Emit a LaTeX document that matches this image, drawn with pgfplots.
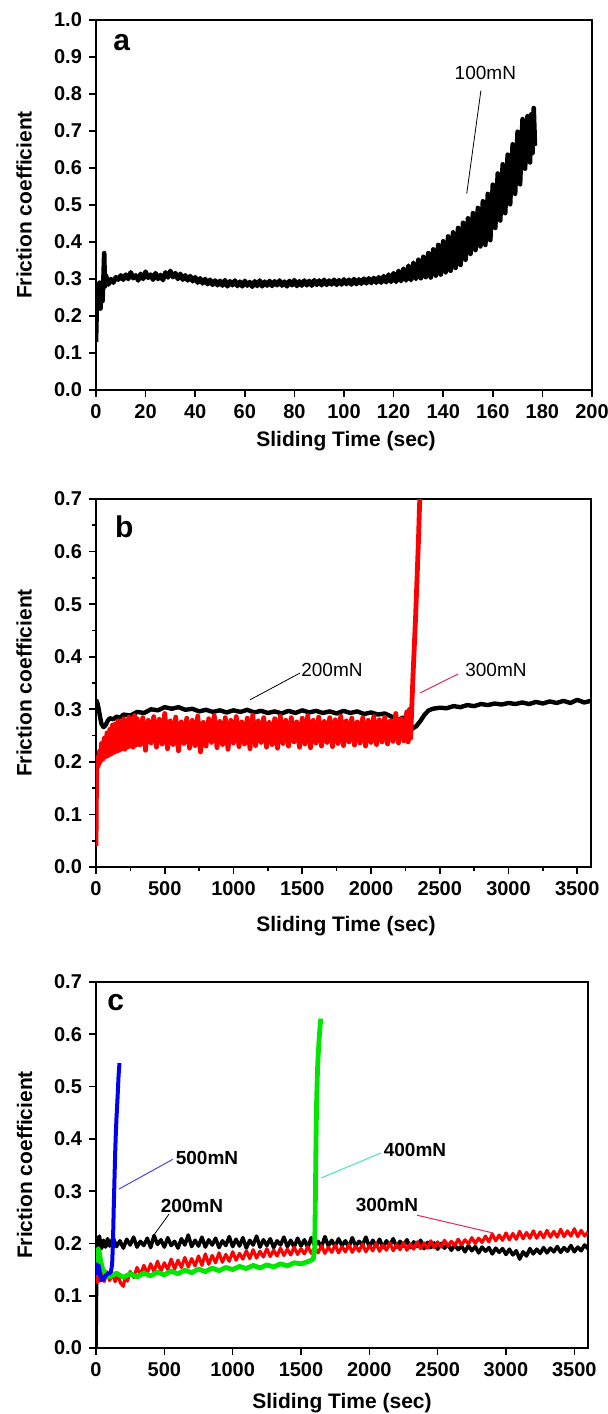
\documentclass[border=0pt]{standalone}
\usepackage{fontspec}
\setmainfont{Liberation Sans}
\usepackage{pgfplots}
\pgfplotsset{compat=1.18}

\definecolor{fgreen}{RGB}{0,230,0}
\definecolor{fblue}{RGB}{0,0,240}
\definecolor{fred}{RGB}{255,0,0}
\definecolor{leadpink}{RGB}{225,40,90}
\definecolor{leadaqua}{RGB}{70,225,190}
\definecolor{leadblue}{RGB}{70,70,230}

\tikzset{
  lead/.style={font=\fontsize{9.5}{11}\selectfont},
  leadb/.style={font=\bfseries\fontsize{9.5}{11}\selectfont},
}

\pgfplotsset{
  fric/.style={
    scale only axis,
    axis line style={line width=0.9pt},
    tick pos=left,
    tick align=outside,
    major tick length=3.5pt,
    minor tick length=2pt,
    tick style={line width=0.8pt,black},
    scaled ticks=false,
    /pgf/number format/assume math mode=true,
    ticklabel style={font=\bfseries\fontsize{10}{12}\selectfont},
    yticklabel style={/pgf/number format/.cd,fixed,fixed zerofill,precision=1},
    xticklabel style={/pgf/number format/1000 sep={}},
    label style={font=\bfseries\fontsize{10.5}{12}\selectfont},
    xlabel={Sliding Time (sec)},
    ylabel={Friction coefficient},
    ylabel style={at={(axis description cs:-0.145,0.5)},anchor=center},
    every axis plot/.append style={line join=round},
  },
}

\begin{document}
\begin{tikzpicture}
\path[use as bounding box] (-48pt,-33pt) rectangle (255.5pt,674pt);

% ---------------- panel a ----------------
\begin{axis}[fric,
  at={(0pt,479pt)}, width=248pt, height=185pt,
  xmin=0, xmax=200, ymin=0, ymax=1.0,
  xtick={0,20,...,200}, ytick={0,0.1,...,1.0},
  xlabel style={at={(axis description cs:0.504,-0.139)},anchor=center},
]
\addplot[black, line width=2.3pt] coordinates {
 (0,0.13) (0.3,0.22) (0.6,0.28) (1,0.24) (1.4,0.29) (1.8,0.22) (2.2,0.29) (2.6,0.24)
 (3,0.30) (3.3,0.37) (3.6,0.28) (4,0.31) (5,0.285) (6,0.30) (7,0.29) (8,0.305) (9,0.298)
 (10,0.31) (11,0.298) (12,0.312) (13,0.300) (14,0.318) (15,0.302) (16,0.310) (17,0.296)
 (18,0.314) (19,0.300) (20,0.320) (21,0.303) (22,0.312) (23,0.298) (24,0.316) (25,0.300)
 (26,0.311) (27,0.297) (28,0.318) (29,0.304) (30,0.322) (31,0.305) (32,0.316) (33,0.300)
 (34,0.314) (35,0.298) (36,0.310) (37,0.296) (38,0.308) (39,0.294) (40,0.305) (41,0.290)
 (42,0.302) (43,0.288) (44,0.300) (45,0.286) (46,0.298) (47,0.284) (48,0.296) (49,0.283)
 (50,0.295) (51,0.282) (52,0.297) (53,0.280) (54,0.294) (55,0.283) (56,0.296) (57,0.281)
 (58,0.293) (59,0.280) (60,0.295) (61,0.282) (62,0.292) (63,0.279) (64,0.294) (65,0.281)
 (66,0.296) (67,0.280) (68,0.293) (69,0.282) (70,0.295) (71,0.281) (72,0.294) (73,0.283)
 (74,0.296) (75,0.282) (76,0.293) (77,0.280) (78,0.295) (79,0.283) (80,0.297) (81,0.281)
 (82,0.294) (83,0.282) (84,0.296) (85,0.283) (86,0.295) (87,0.282) (88,0.297) (89,0.284)
 (90,0.296) (91,0.283) (92,0.298) (93,0.284) (94,0.296) (95,0.285) (96,0.298) (97,0.284)
 (98,0.297) (99,0.285) (100,0.299) (101,0.286) (102,0.298) (103,0.285) (104,0.300)
 (105,0.286) (106,0.299) (107,0.287) (108,0.301) (109,0.288) (110,0.302) (111,0.289)
 (112,0.303) (113,0.290) (114,0.305) (115,0.290) (116,0.308) (117,0.291) (118,0.312)
 (119,0.292) (120,0.316) (121,0.292) (122,0.322) (123,0.294) (124,0.328) (125,0.296)
 (126,0.336) (127,0.297) (128,0.344) (129,0.300) (130,0.352) (131,0.302) (132,0.360)
 (133,0.305) (134,0.370) (135,0.304) (136,0.380) (137,0.309) (138,0.392) (139,0.312)
 (140,0.402) (141,0.318) (142,0.415) (143,0.322) (144,0.426) (145,0.330) (146,0.438)
 (147,0.338) (148,0.452) (149,0.352) (150,0.464) (151,0.368) (152,0.478) (153,0.378)
 (154,0.492) (155,0.388) (156,0.510) (157,0.392) (158,0.530) (159,0.405) (160,0.555)
 (161,0.438) (162,0.585) (163,0.458) (164,0.610) (165,0.478) (166,0.636) (167,0.502)
 (168,0.664) (169,0.530) (170,0.698) (171,0.556) (172,0.732) (173,0.598) (174,0.740)
 (175,0.615) (175.5,0.745) (176,0.640) (176.5,0.762) (177,0.66)
};
\node[lead] at (axis cs:157,0.857) {100mN};
\draw[line width=0.4pt] (axis cs:155.2,0.809) -- (axis cs:149.5,0.531);
\node[font=\bfseries\fontsize{15}{16}\selectfont] at (axis description cs:0.052,0.94) {a};
\end{axis}

% ---------------- panel b ----------------
\begin{axis}[fric,
  at={(0pt,240.5pt)}, width=247.5pt, height=184pt,
  xmin=0, xmax=3600, ymin=0, ymax=0.7,
  xtick={0,500,...,3500}, ytick={0,0.1,...,0.7},
  minor x tick num=1, minor y tick num=1,
  xlabel style={at={(axis description cs:0.505,-0.162)},anchor=center},
]
\addplot[black, line width=2.2pt] coordinates {
 (0,0.318) (10,0.312) (20,0.300) (30,0.285) (40,0.272) (55,0.266) (70,0.270) (85,0.278)
 (100,0.283) (125,0.281) (150,0.286) (175,0.284) (200,0.290) (250,0.288) (300,0.295)
 (350,0.293) (400,0.300) (450,0.298) (500,0.304) (550,0.301) (600,0.304) (650,0.299)
 (700,0.301) (750,0.296) (800,0.299) (850,0.295) (900,0.298) (950,0.294) (1000,0.298)
 (1050,0.295) (1100,0.299) (1150,0.294) (1200,0.297) (1250,0.293) (1300,0.296)
 (1350,0.292) (1400,0.297) (1450,0.293) (1500,0.298) (1550,0.294) (1600,0.297)
 (1650,0.293) (1700,0.296) (1750,0.292) (1800,0.297) (1850,0.293) (1900,0.296)
 (1950,0.291) (2000,0.294) (2050,0.290) (2100,0.292) (2150,0.286) (2200,0.280)
 (2230,0.284) (2260,0.283) (2285,0.270) (2300,0.263) (2330,0.268) (2360,0.278)
 (2390,0.290) (2420,0.298) (2450,0.301) (2500,0.303) (2550,0.302) (2600,0.306)
 (2650,0.304) (2700,0.308) (2750,0.306) (2800,0.310) (2850,0.308) (2900,0.311)
 (2950,0.309) (3000,0.312) (3050,0.310) (3100,0.313) (3150,0.310) (3200,0.314)
 (3250,0.311) (3300,0.315) (3350,0.312) (3400,0.316) (3450,0.312) (3500,0.318)
 (3550,0.313) (3600,0.316)
};
\addplot[fred, line width=2.4pt] coordinates {
 (0,0.04) (2,0.12) (5,0.18) (8,0.20) (12,0.19) (16,0.21) (20,0.195) (25,0.22) (30,0.20)
 (40,0.235) (50,0.205) (60,0.245) (70,0.21) (80,0.255) (90,0.212) (100,0.262) (110,0.215)
 (120,0.27) (130,0.218) (140,0.272) (150,0.22) (160,0.278) (170,0.222) (180,0.275)
 (190,0.225) (200,0.282) (210,0.224) (220,0.278) (230,0.228) (240,0.285) (250,0.23)
 (260,0.28) (270,0.228) (280,0.288) (290,0.232) (300,0.282) (310,0.235)
 (320,0.232) (340,0.284) (360,0.222) (380,0.279) (400,0.236) (420,0.286) (440,0.228)
 (460,0.281) (480,0.234) (500,0.292) (520,0.225) (540,0.278) (560,0.233) (580,0.285)
 (600,0.221) (620,0.276) (640,0.235) (660,0.283) (680,0.226) (700,0.279) (720,0.231)
 (740,0.287) (760,0.219) (780,0.275) (800,0.230) (820,0.282) (840,0.237) (860,0.288)
 (880,0.227) (900,0.277) (920,0.233) (940,0.284) (960,0.224) (980,0.279) (1000,0.236)
 (1020,0.286) (1040,0.229) (1060,0.276) (1080,0.234) (1100,0.283) (1120,0.225)
 (1140,0.289) (1160,0.231) (1180,0.278) (1200,0.237) (1220,0.284) (1240,0.228)
 (1260,0.275) (1280,0.233) (1300,0.282) (1320,0.226) (1340,0.287) (1360,0.235)
 (1380,0.279) (1400,0.230) (1420,0.284) (1440,0.238) (1460,0.276) (1480,0.228)
 (1500,0.283) (1520,0.234) (1540,0.288) (1560,0.227) (1580,0.279) (1600,0.236)
 (1620,0.285) (1640,0.230) (1660,0.277) (1680,0.237) (1700,0.284) (1720,0.229)
 (1740,0.280) (1760,0.235) (1780,0.287) (1800,0.231) (1820,0.278) (1840,0.238)
 (1860,0.283) (1880,0.232) (1900,0.276) (1920,0.236) (1940,0.284) (1960,0.230)
 (1980,0.279) (2000,0.237) (2020,0.286) (2040,0.233) (2060,0.280) (2080,0.238)
 (2100,0.285) (2120,0.234) (2140,0.278) (2160,0.239) (2180,0.292) (2200,0.236)
 (2220,0.282) (2240,0.240) (2260,0.295) (2270,0.238) (2280,0.300) (2288,0.245)
 (2296,0.300) (2305,0.360) (2315,0.420) (2325,0.480) (2335,0.550) (2345,0.620)
 (2352,0.680) (2358,0.720)
};
\node[lead] at (axis cs:1716,0.375) {200mN};
\draw[line width=0.4pt] (axis cs:1484,0.369) -- (axis cs:1120,0.318);
\node[lead] at (axis cs:2909,0.375) {300mN};
\draw[leadpink, line width=0.5pt] (axis cs:2633,0.367) -- (axis cs:2356,0.331);
\node[font=\bfseries\fontsize{15}{16}\selectfont] at (axis description cs:0.057,0.924) {b};
\end{axis}

% ---------------- panel c ----------------
\begin{axis}[fric,
  at={(0pt,0pt)}, width=246pt, height=183pt,
  xmin=0, xmax=3600, ymin=0, ymax=0.7,
  xtick={0,500,...,3500}, ytick={0,0.1,...,0.7},
  xlabel style={at={(axis description cs:0.5,-0.150)},anchor=center},
]
\addplot[black, line width=1.8pt] coordinates {
 (0,0.000) (4,0.120) (6,0.212) (15,0.196) (25,0.214) (40,0.190) (55,0.206) (70,0.193)
 (85,0.209) (100,0.195) (125,0.211) (150,0.194) (175,0.205) (200,0.191) (225,0.208)
 (250,0.197) (275,0.212) (300,0.193) (325,0.204) (350,0.196) (375,0.210) (400,0.192)
 (425,0.215) (450,0.198) (475,0.207) (500,0.193) (525,0.211) (550,0.196) (575,0.204)
 (600,0.191) (625,0.209) (650,0.197) (675,0.216) (700,0.194) (725,0.206) (750,0.195)
 (775,0.212) (800,0.193) (825,0.207) (850,0.197) (875,0.210) (900,0.192) (925,0.205)
 (950,0.196) (975,0.213) (1000,0.194) (1025,0.208) (1050,0.195) (1075,0.211) (1100,0.191)
 (1125,0.206) (1150,0.197) (1175,0.214) (1200,0.193) (1225,0.207) (1250,0.196)
 (1275,0.209) (1300,0.192) (1325,0.205) (1350,0.197) (1375,0.212) (1400,0.194)
 (1425,0.206) (1450,0.193) (1475,0.210) (1500,0.195) (1525,0.207) (1550,0.192)
 (1575,0.211) (1600,0.196) (1625,0.204) (1650,0.193) (1675,0.213) (1700,0.195)
 (1725,0.206) (1750,0.194) (1775,0.209) (1800,0.196) (1825,0.205) (1850,0.192)
 (1875,0.211) (1900,0.195) (1925,0.204) (1950,0.197) (1975,0.212) (2000,0.193)
 (2025,0.206) (2050,0.195) (2075,0.208) (2100,0.192) (2125,0.205) (2150,0.196)
 (2175,0.209) (2200,0.193) (2225,0.204) (2250,0.195) (2275,0.207) (2300,0.192)
 (2325,0.203) (2350,0.194) (2375,0.206) (2400,0.190) (2425,0.202) (2450,0.192)
 (2475,0.201) (2500,0.189) (2525,0.200) (2550,0.191) (2575,0.198) (2600,0.187)
 (2625,0.197) (2650,0.188) (2675,0.195) (2700,0.184) (2725,0.196) (2750,0.186)
 (2775,0.194) (2800,0.182) (2825,0.193) (2850,0.185) (2875,0.192) (2900,0.180)
 (2925,0.191) (2950,0.183) (2975,0.190) (3000,0.179) (3025,0.189) (3050,0.178)
 (3075,0.186) (3100,0.170) (3125,0.184) (3150,0.176) (3175,0.190) (3200,0.180)
 (3225,0.189) (3250,0.181) (3275,0.192) (3300,0.182) (3325,0.191) (3350,0.184)
 (3375,0.194) (3400,0.183) (3425,0.192) (3450,0.185) (3475,0.196) (3500,0.184)
 (3525,0.193) (3550,0.186) (3575,0.197) (3600,0.190)
};
\addplot[fred, line width=1.6pt] coordinates {
 (0,0.130) (5,0.150) (10,0.125) (20,0.148) (30,0.128) (45,0.152) (60,0.127) (80,0.146)
 (100,0.129) (120,0.142) (140,0.127) (160,0.140) (180,0.124) (200,0.118) (215,0.138)
 (230,0.128) (250,0.146) (275,0.135) (300,0.154) (325,0.140) (350,0.158) (375,0.143)
 (400,0.161) (425,0.146) (450,0.166) (475,0.147) (500,0.163) (525,0.150) (550,0.170)
 (575,0.151) (600,0.168) (625,0.154) (650,0.173) (675,0.155) (700,0.171) (725,0.157)
 (750,0.176) (775,0.158) (800,0.180) (825,0.160) (850,0.177) (875,0.163) (900,0.182)
 (925,0.164) (950,0.179) (975,0.166) (1000,0.184) (1025,0.168) (1050,0.181) (1075,0.170)
 (1100,0.186) (1125,0.171) (1150,0.188) (1175,0.172) (1200,0.185) (1225,0.174)
 (1250,0.190) (1275,0.175) (1300,0.187) (1325,0.176) (1350,0.191) (1375,0.177)
 (1400,0.189) (1425,0.178) (1450,0.193) (1475,0.179) (1500,0.190) (1525,0.180)
 (1550,0.194) (1575,0.181) (1600,0.192) (1625,0.182) (1650,0.196) (1675,0.181)
 (1700,0.193) (1725,0.183) (1750,0.197) (1775,0.182) (1800,0.194) (1825,0.184)
 (1850,0.198) (1875,0.183) (1900,0.195) (1925,0.185) (1950,0.199) (1975,0.184)
 (2000,0.196) (2025,0.186) (2050,0.200) (2075,0.185) (2100,0.197) (2125,0.187)
 (2150,0.201) (2175,0.186) (2200,0.198) (2225,0.188) (2250,0.202) (2275,0.187)
 (2300,0.199) (2325,0.189) (2350,0.203) (2375,0.190) (2400,0.201) (2425,0.191)
 (2450,0.205) (2475,0.192) (2500,0.203) (2525,0.193) (2550,0.206) (2575,0.195)
 (2600,0.204) (2625,0.196) (2650,0.208) (2675,0.197) (2700,0.207) (2725,0.199)
 (2750,0.211) (2775,0.200) (2800,0.210) (2825,0.202) (2850,0.214) (2875,0.203)
 (2900,0.218) (2925,0.205) (2950,0.216) (2975,0.206) (3000,0.220) (3025,0.207)
 (3050,0.219) (3075,0.208) (3100,0.223) (3125,0.209) (3150,0.221) (3175,0.210)
 (3200,0.224) (3225,0.210) (3250,0.222) (3275,0.211) (3300,0.225) (3325,0.212)
 (3350,0.223) (3375,0.212) (3400,0.227) (3425,0.213) (3450,0.224) (3475,0.214)
 (3500,0.228) (3525,0.213) (3550,0.225) (3575,0.214) (3600,0.222)
};
\addplot[fgreen, line width=2.4pt] coordinates {
 (0,0.15) (8,0.175) (15,0.19) (25,0.182) (35,0.165) (50,0.15) (70,0.142) (100,0.136)
 (150,0.143) (200,0.135) (250,0.142) (300,0.136) (350,0.143) (400,0.138) (450,0.145)
 (500,0.140) (550,0.147) (600,0.142) (650,0.149) (700,0.144) (750,0.151) (800,0.146)
 (850,0.153) (900,0.148) (950,0.154) (1000,0.150) (1050,0.156) (1100,0.152) (1150,0.158)
 (1200,0.153) (1250,0.159) (1300,0.155) (1350,0.161) (1400,0.157) (1450,0.163)
 (1500,0.161) (1560,0.166) (1590,0.170) (1600,0.19) (1605,0.28) (1610,0.40) (1615,0.48)
 (1622,0.54) (1630,0.58) (1638,0.61) (1645,0.63)
};
\addplot[fblue, line width=2pt] coordinates {
 (0,0.14) (5,0.16) (12,0.15) (20,0.158) (30,0.14) (40,0.13) (55,0.132) (70,0.138)
 (85,0.142) (100,0.143) (110,0.147) (118,0.16) (124,0.2) (130,0.27) (135,0.32)
 (140,0.37) (145,0.41) (150,0.44) (158,0.48) (165,0.52) (172,0.545)
};
\node[leadb] at (axis cs:812,0.363) {500mN};
\draw[leadblue, line width=0.5pt] (axis cs:563,0.361) -- (axis cs:168,0.304);
\node[leadb] at (axis cs:702,0.272) {200mN};
\draw[line width=0.4pt] (axis cs:534,0.256) -- (axis cs:415,0.213);
\node[leadb] at (axis cs:2334,0.379) {400mN};
\draw[leadaqua, line width=0.5pt] (axis cs:2085,0.373) -- (axis cs:1646,0.325);
\node[leadb] at (axis cs:2129,0.273) {300mN};
\draw[leadpink, line width=0.5pt] (axis cs:2349,0.254) -- (axis cs:2905,0.220);
\node[font=\bfseries\fontsize{15}{16}\selectfont] at (axis description cs:0.04,0.943) {c};
\end{axis}
\end{tikzpicture}
\end{document}
